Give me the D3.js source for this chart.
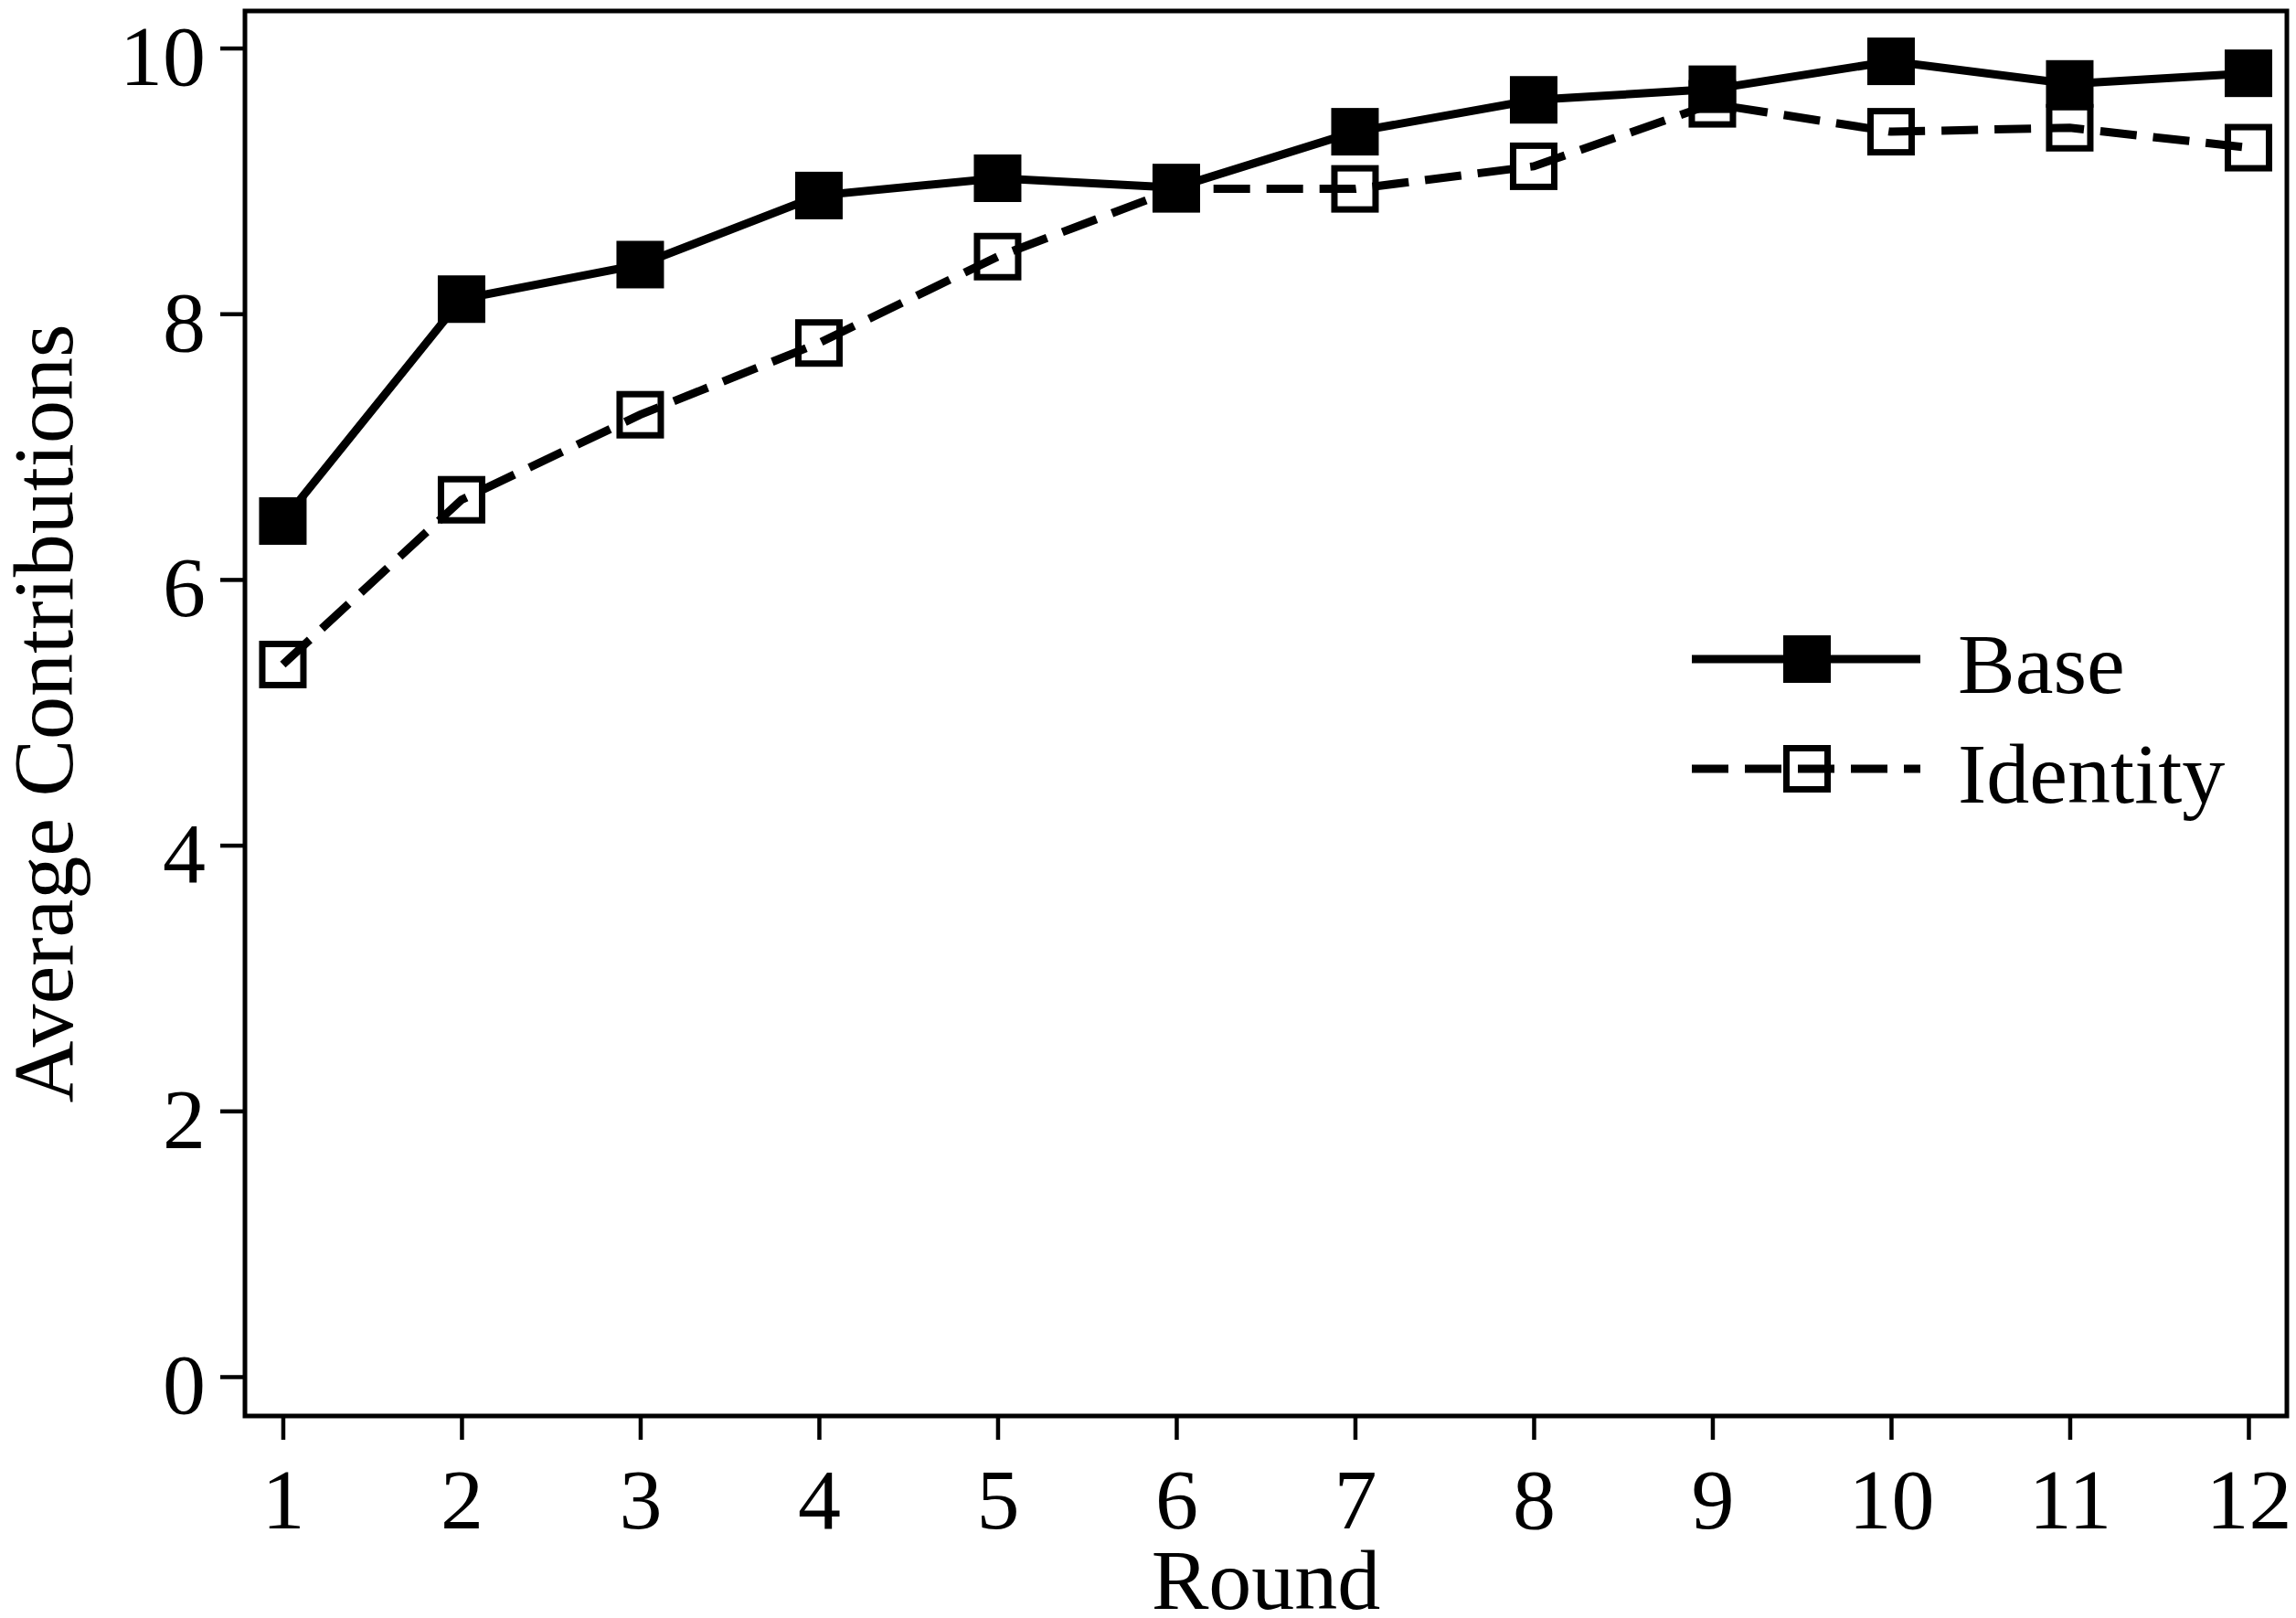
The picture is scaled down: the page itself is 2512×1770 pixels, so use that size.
<!DOCTYPE html>
<html>
<head>
<meta charset="utf-8">
<script src="https://cdn.jsdelivr.net/npm/d3@7"></script>
<style>
  html, body { margin: 0; padding: 0; background: #fff; }
  svg { display: block; }
  text { font-family: "Liberation Serif", "Times New Roman", serif; fill: #000; }
</style>
</head>
<body>
<svg id="chart" width="2512" height="1770"></svg>
<script>
// ---- data ----
const rounds = [1, 2, 3, 4, 5, 6, 7, 8, 9, 10, 11, 12];
const baseValues = [6.44, 8.11, 8.37, 8.89, 9.02, 8.95, 9.37, 9.61, 9.69, 9.90, 9.73, 9.81];
const identityValues = [5.36, 6.60, 7.24, 7.78, 8.43, 8.94, 8.94, 9.11, 9.58, 9.37, 9.40, 9.25];
const yTicks = [0, 2, 4, 6, 8, 10];
const seriesNames = ["Base", "Identity"];
const xTitle = "Round";
const yTitle = "Average Contributions";

// ---- layout ----
const plotL = 268, plotR = 2502, plotT = 12, plotB = 1549;
const fontSize = 94;
const ff = '"Liberation Serif", "Times New Roman", serif';

const svg = d3.select("#chart");

const x = d3.scaleLinear().domain([0.788, 12.215]).range([plotL, plotR]);
const y = d3.scaleLinear().domain([-0.296, 10.279]).range([plotB, plotT]);

// axes
const xAxis = d3.axisBottom(x).tickValues(rounds).tickFormat(d3.format("d")).tickSize(26).tickSizeOuter(0);
const gx = svg.append("g").attr("transform", `translate(0,${plotB})`).call(xAxis);
gx.select(".domain").remove();
gx.selectAll(".tick line").attr("stroke", "#000").attr("stroke-width", 4.5);
gx.selectAll(".tick text")
  .attr("y", 1672 - plotB).attr("dy", null)
  .attr("font-size", fontSize)
  .style("font-family", ff)
  .attr("fill", "#000");

const yAxis = d3.axisLeft(y).tickValues(yTicks).tickFormat(d3.format("d")).tickSize(27).tickSizeOuter(0);
const gy = svg.append("g").attr("transform", `translate(${plotL},0)`).call(yAxis);
gy.select(".domain").remove();
gy.selectAll(".tick line").attr("stroke", "#000").attr("stroke-width", 4.5);
gy.selectAll(".tick text")
  .attr("x", 225 - plotL).attr("dy", null).attr("y", 40)
  .attr("text-anchor", "end")
  .attr("font-size", fontSize)
  .style("font-family", ff)
  .attr("fill", "#000");

// frame
svg.append("rect")
  .attr("x", plotL).attr("y", plotT)
  .attr("width", plotR - plotL).attr("height", plotB - plotT)
  .attr("fill", "none").attr("stroke", "#000").attr("stroke-width", 5);

// titles
svg.append("text")
  .attr("x", (plotL + plotR) / 2).attr("y", 1760)
  .attr("text-anchor", "middle").attr("font-size", fontSize)
  .text(xTitle);

svg.append("text")
  .attr("transform", `translate(79,${(plotT + plotB) / 2}) rotate(-90)`)
  .attr("text-anchor", "middle").attr("font-size", fontSize)
  .text(yTitle);

// series
const line = d3.line().x((d, i) => x(rounds[i])).y(d => y(d));
const ms = 52; // marker outer size
const strokeOpen = 7;
const dash = "40,18";

// Identity: open squares + dashed line
const gId = svg.append("g");
gId.selectAll("rect").data(identityValues).enter().append("rect")
  .attr("x", (d, i) => x(rounds[i]) - ms / 2 + strokeOpen / 2)
  .attr("y", d => y(d) - ms / 2 + strokeOpen / 2)
  .attr("width", ms - strokeOpen).attr("height", ms - strokeOpen)
  .attr("fill", "none").attr("stroke", "#000").attr("stroke-width", strokeOpen);
gId.append("path").datum(identityValues)
  .attr("d", line).attr("fill", "none").attr("stroke", "#000")
  .attr("stroke-width", 9).attr("stroke-dasharray", dash);

// Base: solid line + filled squares
const gB = svg.append("g");
gB.append("path").datum(baseValues)
  .attr("d", line).attr("fill", "none").attr("stroke", "#000").attr("stroke-width", 9);
gB.selectAll("rect").data(baseValues).enter().append("rect")
  .attr("x", (d, i) => x(rounds[i]) - ms / 2)
  .attr("y", d => y(d) - ms / 2)
  .attr("width", ms).attr("height", ms)
  .attr("fill", "#000");

// legend
const legX0 = 1851, legX1 = 2101, legMx = 1977, legTx = 2142;
const legY = [721, 841];
// Base
svg.append("line").attr("x1", legX0).attr("x2", legX1).attr("y1", legY[0]).attr("y2", legY[0])
  .attr("stroke", "#000").attr("stroke-width", 9);
svg.append("rect").attr("x", legMx - ms / 2).attr("y", legY[0] - ms / 2)
  .attr("width", ms).attr("height", ms).attr("fill", "#000");
svg.append("text").attr("x", legTx).attr("y", legY[0] + 37).attr("font-size", fontSize).text(seriesNames[0]);
// Identity
svg.append("rect").attr("x", legMx - ms / 2 + strokeOpen / 2).attr("y", legY[1] - ms / 2 + strokeOpen / 2)
  .attr("width", ms - strokeOpen).attr("height", ms - strokeOpen)
  .attr("fill", "none").attr("stroke", "#000").attr("stroke-width", strokeOpen);
svg.append("line").attr("x1", legX0).attr("x2", legX1).attr("y1", legY[1]).attr("y2", legY[1])
  .attr("stroke", "#000").attr("stroke-width", 9).attr("stroke-dasharray", dash);
svg.append("text").attr("x", legTx).attr("y", legY[1] + 37).attr("font-size", fontSize).text(seriesNames[1]);
</script>
</body>
</html>
